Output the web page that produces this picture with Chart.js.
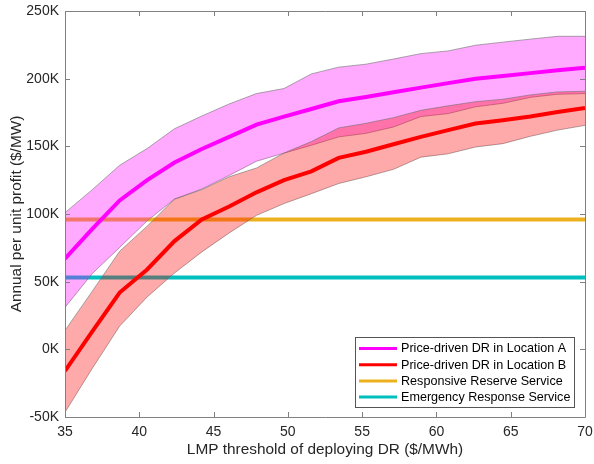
<!DOCTYPE html>
<html>
<head>
<meta charset="utf-8">
<script src="https://cdn.jsdelivr.net/npm/chart.js@4"></script>
<style>
html,body{margin:0;padding:0;background:#fff;}
#wrap{width:594px;height:464px;}
</style>
</head>
<body>
<div id="wrap"><canvas id="c" width="594" height="464"></canvas></div>
<script>
// LMP threshold ($/MWh)
const lmp = [35, 36.84, 38.68, 40.53, 42.37, 44.21, 46.05, 47.89, 49.74, 51.58,
             53.42, 55.26, 57.11, 58.95, 60.79, 62.63, 64.47, 66.32, 68.16, 70];
// Annual per unit profit, thousands of $/MW
const locA      = [67, 89, 110, 125, 138, 148, 157, 166, 172, 177.6,
                   183.3, 186.5, 190, 193.4, 196.7, 200, 202, 204.1, 206.2, 208];
const locAUpper = [101, 118, 136, 148.4, 163, 172.4, 181.3, 189, 192.7, 203.5,
                   208.5, 210.7, 214.5, 218.5, 220.5, 224.7, 227, 229.2, 231.3, 231.3];
const locALower = [31, 56, 75.3, 95, 111, 118.5, 128.5, 139, 145, 150.8,
                   157, 159.6, 164.3, 172, 174.2, 179.2, 181.8, 186.2, 188.5, 189];
const locB      = [-16, 13.3, 42, 59, 80, 96, 105.5, 116, 125, 131.5,
                   141.5, 146, 151.5, 157, 162, 166.8, 169.2, 172, 175.4, 178.3];
const locBUpper = [14, 43, 72.5, 91, 111, 118, 127.5, 134, 145, 153.5,
                   163.6, 167, 171.2, 176.6, 179.9, 183, 184.8, 188, 190.2, 190.7];
const locBLower = [-46.5, -14, 17.2, 38.7, 56.4, 72, 86, 99, 107.7, 115,
                   122.5, 127.5, 133, 142, 144.5, 149.5, 152, 157.4, 162, 165.5];
const reserveProfit = [96, 96];
const emergencyProfit = [53, 53];
const xRange = [35, 70];
const seriesLabels = ['Price-driven DR in Location A', 'Price-driven DR in Location B',
                      'Responsive Reserve Service', 'Emergency Response Service'];
const xTicks = [35, 40, 45, 50, 55, 60, 65, 70];
const yTicks = [-50, 0, 50, 100, 150, 200, 250];

const pts = (xs, ys) => xs.map((x, i) => ({x: x, y: ys[i]}));
const MAG = '#ff00ff', RED = '#ff0000', ORG = '#edb120', CYN = '#00bfbf';
const EDGE = 'rgba(110,110,110,0.75)';
const FONT = '"Liberation Sans", Arial, sans-serif';

const datasets = [
  {label: seriesLabels[0], data: pts(lmp, locA), borderColor: MAG, borderWidth: 4, order: 1},
  {label: seriesLabels[1], data: pts(lmp, locB), borderColor: RED, borderWidth: 4, order: 0},
  {label: 'B upper', data: pts(lmp, locBUpper), borderColor: EDGE, borderWidth: 0.8,
   fill: {target: 3}, backgroundColor: 'rgba(255,0,0,0.333)', order: 2},
  {label: 'B lower', data: pts(lmp, locBLower), borderColor: EDGE, borderWidth: 0.8, order: 3},
  {label: 'A upper', data: pts(lmp, locAUpper), borderColor: EDGE, borderWidth: 0.8,
   fill: {target: 5}, backgroundColor: 'rgba(255,0,255,0.333)', order: 4},
  {label: 'A lower', data: pts(lmp, locALower), borderColor: EDGE, borderWidth: 0.8, order: 5},
  {label: seriesLabels[2], data: pts(xRange, reserveProfit), borderColor: ORG, borderWidth: 4, order: 6},
  {label: seriesLabels[3], data: pts(xRange, emergencyProfit), borderColor: CYN, borderWidth: 4, order: 7}
];
datasets.forEach(d => { d.pointRadius = 0; d.tension = 0; if (d.fill === undefined) d.fill = false; });

const boxTicks = {
  id: 'boxTicks',
  afterDraw(chart) {
    const {ctx, chartArea: a, scales: {x, y}} = chart;
    ctx.save();
    ctx.strokeStyle = '#808080';
    ctx.lineWidth = 1;
    ctx.beginPath();
    ctx.rect(Math.round(a.left) + 0.5, Math.round(a.top) + 0.5,
             Math.round(a.right - a.left), Math.round(a.bottom - a.top));
    ctx.stroke();
    const L = 5;
    ctx.beginPath();
    xTicks.forEach(v => {
      const px = Math.round(x.getPixelForValue(v)) + 0.5;
      ctx.moveTo(px, a.bottom); ctx.lineTo(px, a.bottom - L);
      ctx.moveTo(px, a.top); ctx.lineTo(px, a.top + L);
    });
    yTicks.forEach(v => {
      const py = Math.round(y.getPixelForValue(v)) + 0.5;
      ctx.moveTo(a.left, py); ctx.lineTo(a.left + L, py);
      ctx.moveTo(a.right, py); ctx.lineTo(a.right - L, py);
    });
    ctx.stroke();

    // legend
    const bx = 355.5, by = 337.5, bw = 219, bh = 70;
    ctx.fillStyle = '#fff';
    ctx.fillRect(bx, by, bw, bh);
    ctx.strokeStyle = '#555';
    ctx.strokeRect(bx, by, bw, bh);
    const cols = [MAG, RED, ORG, CYN];
    ctx.font = '12.6px ' + FONT;
    ctx.textBaseline = 'middle';
    ctx.textAlign = 'left';
    seriesLabels.forEach((t, i) => {
      const yy = 348.5 + i * 16.2;
      ctx.strokeStyle = cols[i];
      ctx.lineWidth = 3;
      ctx.beginPath(); ctx.moveTo(359, yy); ctx.lineTo(397, yy); ctx.stroke();
      ctx.fillStyle = '#000';
      ctx.fillText(t, 401, yy + 0.5);
    });
    ctx.restore();
  }
};

function zeroPad(s) { s.paddingTop = 0; s.paddingBottom = 0; s.paddingLeft = 0; s.paddingRight = 0; }

new Chart(document.getElementById('c'), {
  type: 'line',
  data: {datasets: datasets},
  plugins: [boxTicks],
  options: {
    responsive: false,
    animation: false,
    devicePixelRatio: 1,
    layout: {padding: {top: 11, right: 9, left: 0, bottom: 0}},
    plugins: {legend: {display: false}, tooltip: {enabled: false}},
    scales: {
      x: {
        type: 'linear', min: 35, max: 70,
        grid: {display: false, drawTicks: false},
        border: {display: false},
        ticks: {stepSize: 5, padding: 7, color: '#262626', font: {family: FONT, size: 14},
                maxRotation: 0},
        title: {display: true, text: 'LMP threshold of deploying DR ($/MWh)', color: '#262626',
                font: {family: FONT, size: 15.4}, padding: {top: 0, bottom: 5}},
        afterFit(s) { s.height = 47; zeroPad(s); }
      },
      y: {
        type: 'linear', min: -50, max: 250,
        grid: {display: false, drawTicks: false},
        border: {display: false},
        ticks: {stepSize: 50, padding: 6, color: '#262626', font: {family: FONT, size: 14},
                callback: v => v + 'K'},
        title: {display: true, text: 'Annual per unit profit ($/MW)', color: '#262626',
                font: {family: FONT, size: 15.4}, padding: {top: 8, bottom: 0}},
        afterFit(s) { s.width = 65; zeroPad(s); }
      }
    }
  }
});
</script>
</body>
</html>
